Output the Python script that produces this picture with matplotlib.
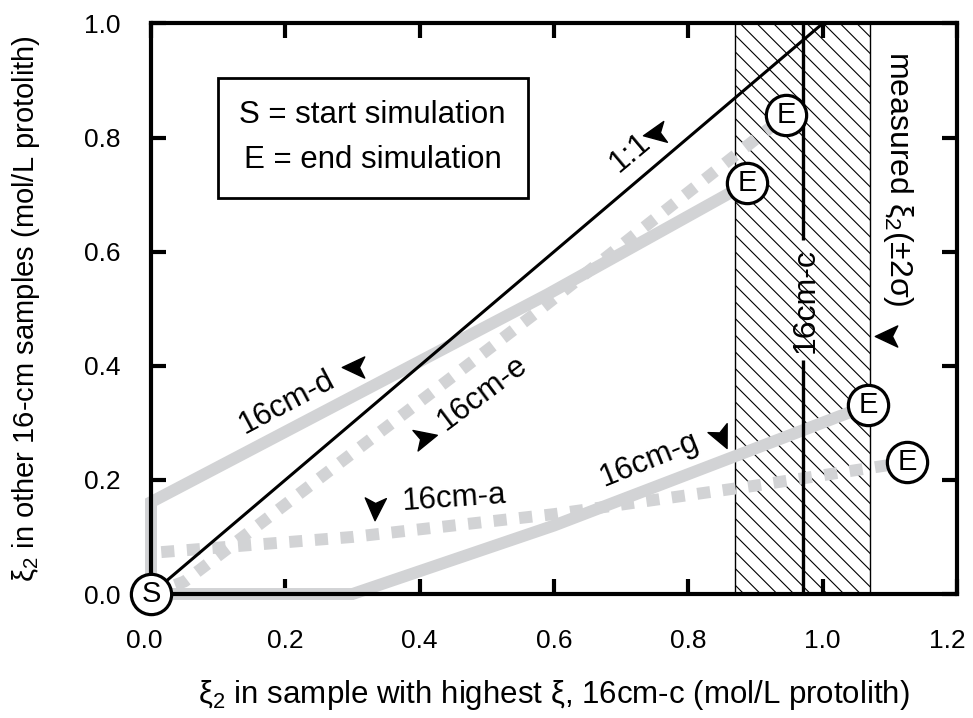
import matplotlib
matplotlib.use('Agg')
import matplotlib.pyplot as plt
from matplotlib.path import Path
from matplotlib.markers import MarkerStyle
from matplotlib.transforms import Affine2D, ScaledTranslation
from matplotlib.patches import Rectangle

plt.rcParams['font.family'] = ['Liberation Sans', 'DejaVu Sans']
plt.rcParams['mathtext.fontset'] = 'custom'
plt.rcParams['mathtext.rm'] = 'Liberation Sans'
plt.rcParams['mathtext.it'] = 'Liberation Sans'
plt.rcParams['hatch.linewidth'] = 0.8

GRAY = '#d2d3d5'

# simulated reaction paths: xi2 in 16cm-c (x) vs xi2 in the other sample (y)
d_x = [0.0, 0.0, 0.59, 0.888]
d_y = [0.0, 0.161, 0.525, 0.720]
e_x = [0.0, 0.05, 0.57, 0.946]
e_y = [0.0, 0.022, 0.49, 0.840]
a_x = [0.0, 0.0, 0.3, 0.6, 0.9, 1.126]
a_y = [0.0, 0.072, 0.10, 0.14, 0.19, 0.231]
g_x = [0.0, 0.3, 0.6, 1.068]
g_y = [0.0, 0.0, 0.12, 0.331]

one_to_one = [0.0, 1.0]

# measured xi2 for 16cm-c and its 2-sigma band
xi2_c = 0.97
xi2_c_err = 0.10

# end points of each simulation
end_x = [0.888, 0.946, 1.068, 1.126]
end_y = [0.720, 0.840, 0.331, 0.231]

xticks = [0.0, 0.2, 0.4, 0.6, 0.8, 1.0, 1.2]
yticks = [0.0, 0.2, 0.4, 0.6, 0.8, 1.0]


def arrowhead(angle):
    verts = [(1, 0), (-0.7, 0.8), (-0.3, 0), (-0.7, -0.8), (1, 0)]
    codes = [Path.MOVETO, Path.LINETO, Path.LINETO, Path.LINETO, Path.CLOSEPOLY]
    return MarkerStyle(Path(verts, codes), transform=Affine2D().rotate_deg(angle))


def pointer(ax, x, y, angle):
    ax.plot([x], [y], marker=arrowhead(angle), markersize=19, color='black',
            linestyle='none', zorder=6)


def circled(ax, x, y, letter):
    ax.plot([x], [y], 'o', markersize=29, markerfacecolor='white',
            markeredgecolor='black', markeredgewidth=2.3, zorder=8, clip_on=False)
    ax.text(x, y, letter, ha='center', va='center', fontsize=21, zorder=9)


fig = plt.figure(figsize=(9.73, 7.18), dpi=100)
ax = fig.add_axes([0.1552, 0.1727, 0.8284, 0.7946])
ax.set_xlim(0, 1.2)
ax.set_ylim(0, 1.0)

# 2-sigma band around measured value
ax.add_patch(Rectangle((xi2_c - xi2_c_err, 0), 2 * xi2_c_err, 1.0, facecolor='none',
                       edgecolor='black', hatch='\\\\', linewidth=1.0, zorder=1))
ax.vlines(xi2_c, 0, 0.41, color='black', linewidth=2.4, zorder=4)
ax.vlines(xi2_c, 0.62, 1.0, color='black', linewidth=2.4, zorder=4)
ax.text(xi2_c + 0.004, 0.515, '16cm-c', rotation=90, ha='center', va='center',
        fontsize=23, zorder=6)

# model paths
kw = dict(color=GRAY, linewidth=8.6, clip_on=False, zorder=2)
ax.plot(d_x, d_y, solid_capstyle='butt', solid_joinstyle='miter', **kw)
ax.plot(g_x, g_y, solid_capstyle='butt', solid_joinstyle='miter', **kw)
ax.plot(e_x, e_y, linestyle=(0, (1.1, 1.05)), dash_capstyle='butt', **kw)
ax.plot(a_x, a_y, linestyle=(0, (1.1, 1.05)), dash_capstyle='butt', **kw)

ax.plot(one_to_one, one_to_one, color='black', linewidth=2.2, zorder=3)

for x, y in zip(end_x, end_y):
    circled(ax, x, y, 'E')
circled(ax, 0.0, 0.0, 'S')

# path labels
fs = 22.5
ax.text(0.713, 0.773, '1:1', rotation=40, ha='center', va='center', fontsize=fs)
pointer(ax, 0.752, 0.808, 190)
ax.text(0.203, 0.335, '16cm-d', rotation=28, ha='center', va='center', fontsize=fs)
pointer(ax, 0.303, 0.398, 180)
ax.text(0.493, 0.352, '16cm-e', rotation=37, ha='center', va='center', fontsize=fs)
pointer(ax, 0.406, 0.273, 14)
ax.text(0.452, 0.167, '16cm-a', rotation=4, ha='center', va='center', fontsize=fs)
pointer(ax, 0.333, 0.153, 268)
ax.text(0.742, 0.235, '16cm-g', rotation=22, ha='center', va='center', fontsize=fs)
pointer(ax, 0.849, 0.277, 295)
ax.text(1.112, 0.727, 'measured ξ$_2$(±2σ)', rotation=270, ha='center', va='center',
        fontsize=23)
pointer(ax, 1.097, 0.452, 180)

# key box
ax.add_patch(Rectangle((0.0997, 0.694), 0.461, 0.21, facecolor='white',
                       edgecolor='black', linewidth=2.0, zorder=5))
ax.text(0.33, 0.840, 'S = start simulation', ha='center', va='center', fontsize=fs, zorder=6)
ax.text(0.33, 0.761, 'E = end simulation', ha='center', va='center', fontsize=fs, zorder=6)

for s in ax.spines.values():
    s.set_linewidth(3.0)
ax.set_xticks(xticks)
ax.set_yticks(yticks)
ax.set_xticklabels([f'{t:.1f}' for t in xticks])
ax.set_yticklabels([f'{t:.1f}' for t in yticks])
ax.tick_params(direction='in', length=11, width=3, top=True, right=True,
               labelsize=19, pad=22)
ax.tick_params(axis='x', pad=25)

# nudge the outer x tick labels left, as in the printed figure
xlabels = ax.get_xticklabels()
for lab, dx in ((xlabels[0], -7), (xlabels[-1], -10)):
    lab.set_transform(lab.get_transform() + ScaledTranslation(dx / 100, 0, fig.dpi_scale_trans))

ax.set_xlabel('ξ$_2$ in sample with highest ξ, 16cm-c (mol/L protolith)',
              fontsize=22.5, labelpad=18)
ax.set_ylabel('ξ$_2$ in other 16-cm samples (mol/L protolith)',
              fontsize=21, labelpad=30)

fig.savefig('out.png', dpi=100)
